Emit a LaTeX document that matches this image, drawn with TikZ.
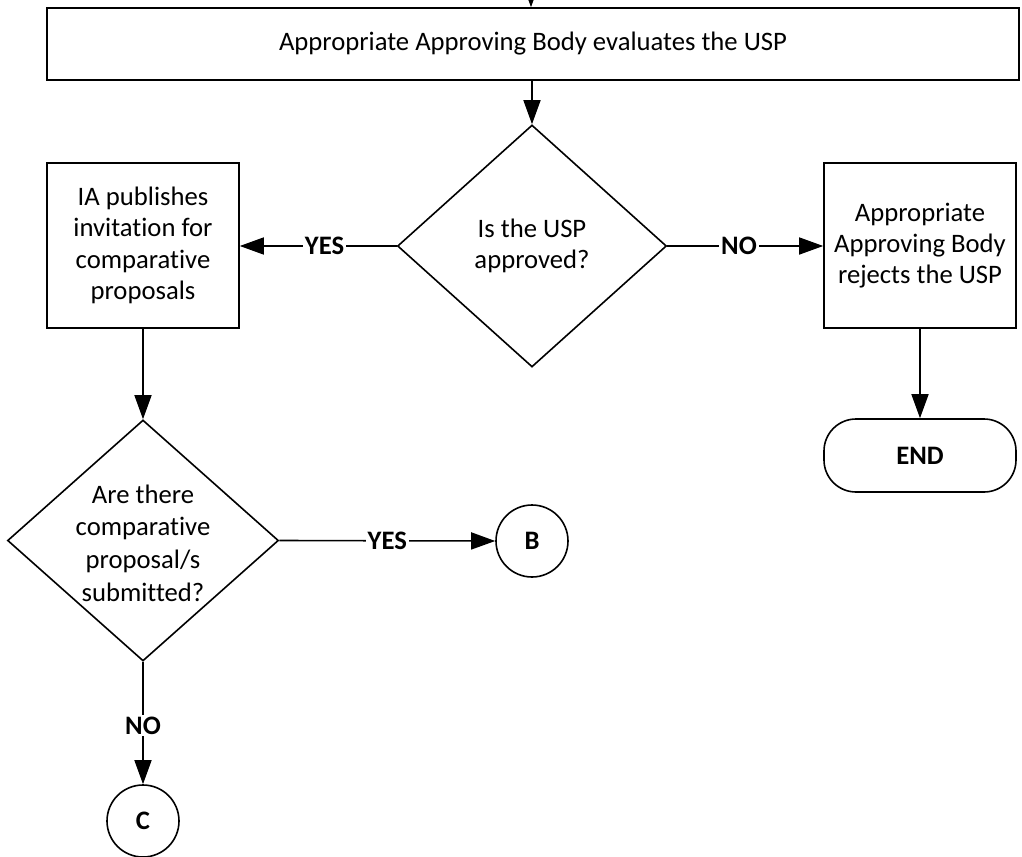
\documentclass[tikz,border=0pt]{standalone}
\usepackage{fontspec}
\setmainfont{Carlito}[Ligatures={NoCommon}]
\usetikzlibrary{shapes.geometric,arrows.meta}
\begin{document}
\begin{tikzpicture}[x=0.75pt,y=-0.75pt,
  every node/.style={font=\fontsize{20}{23.5}\selectfont},
  box/.style={draw, line width=1.2pt, align=center, inner sep=0pt},
  dia/.style={draw, diamond, line width=1.2pt, inner sep=0pt},
  conn/.style={line width=1.2pt, -{Triangle[length=18pt,width=12.75pt]}},
  bold/.style={font=\bfseries\fontsize{20}{23.5}\selectfont},
  lbl/.style={fill=white, bold, inner sep=1.5pt}
]
\clip (0,0) rectangle (1022,857);
\coordinate (in) at (531,-30);
\node[box, minimum width=729pt, minimum height=54pt] (top) at (533,44) {Appropriate Approving Body evaluates the USP};
\node[dia, minimum width=201.75pt, minimum height=181.5pt] (d1) at (532,246) {};
\node[align=center] (d1t) at (d1.center) {Is the USP\\approved?};
\node[box, minimum width=144pt, minimum height=123.75pt] (ia) at (143,245.5) {IA publishes\\invitation for\\comparative\\proposals};
\node[box, minimum width=144pt, minimum height=123.75pt] (rej) at (920,245.5) {Appropriate\\Approving Body\\rejects the USP};
\node[box, rounded corners=24pt, minimum width=144pt, minimum height=54.75pt, bold] (end) at (920,455.5) {END};
\node[dia, minimum width=203.25pt, minimum height=180.75pt] (d2) at (143,540.5) {};
\node[align=center, font=\fontsize{20}{24.5}\selectfont] (d2t) at ([yshift=-2pt]d2.center) {Are there\\comparative\\proposal/s\\submitted?};
\node[draw, circle, line width=1.2pt, minimum size=54pt, inner sep=0pt, bold] (b) at (532,541) {B};
\node[draw, circle, line width=1.2pt, minimum size=54pt, inner sep=0pt, bold] (c) at (143,821) {C};

\draw[conn] (in) -- (in |- top.north);
\draw[conn] (d1 |- top.south) -- (d1.north);
\draw[conn] (d1.west) -- node[lbl, pos=0.46] (l1) {YES} (ia.east |- d1.west);
\draw[conn] (d1.east) -- node[lbl, pos=0.46] (l2) {NO} (rej.west |- d1.east);
\draw[conn] (ia.south) -- (d2.north);
\draw[conn] (rej.south) -- (end.north);
\draw[conn] (d2.east) -- node[lbl, pos=0.5] (l3) {YES} (b.west);
\draw[conn] (d2.south) -- node[lbl, pos=0.52] (l4) {NO} (c.north);
\end{tikzpicture}
\end{document}
